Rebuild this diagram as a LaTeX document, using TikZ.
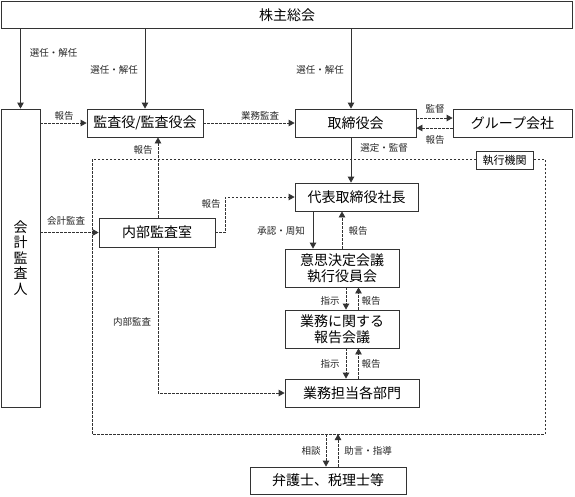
\documentclass[tikz,border=0pt]{standalone}
\usepackage{fontspec}
\newfontfamily\jp{Noto Sans CJK JP}
\usetikzlibrary{arrows.meta}
\begin{document}
\begin{tikzpicture}[x=1pt,y=-1pt,
 box/.style={draw=black!80,line width=0.8pt,fill=white,inner sep=0pt,font=\jp\fontsize{14}{16}\selectfont,align=center},
 lbl/.style={font=\jp\fontsize{9.5}{11}\selectfont,inner sep=0pt,text=black!85},
 sarr/.style={draw=black!80,line width=0.8pt,-{Triangle[length=6pt,width=6.5pt]}},
 darr/.style={sarr,dash pattern=on 2.5pt off 1.5pt},
 dline/.style={draw=black!80,line width=0.8pt,dash pattern=on 2.5pt off 1.5pt}]
\useasboundingbox (0,0) rectangle (575,496);

% executive region
\draw[dline] (92,159) rectangle (545,434);
\coordinate (regbot) at (92,434);

% boxes
\node[box,minimum width=571pt,minimum height=27pt] (top) at (287,15) {株主総会};
\node[box,minimum width=39pt,minimum height=298pt,font=\jp\fontsize{14}{15.5}\selectfont] (kaikei) at (20.5,258) {会\\計\\監\\査\\人};
\node[box,minimum width=116pt,minimum height=28pt] (kansa) at (145,123) {監査役/監査役会};
\node[box,minimum width=121pt,minimum height=28pt] (tori) at (355.5,123) {取締役会};
\node[box,minimum width=119pt,minimum height=28pt] (group) at (512.5,123) {グループ会社};
\node[box,minimum width=57pt,minimum height=18pt,font=\jp\fontsize{11}{13}\selectfont] (shikko) at (504.5,160) {執行機関};
\node[box,minimum width=123pt,minimum height=28pt] (daihyo) at (356.5,197) {代表取締役社長};
\node[box,minimum width=116pt,minimum height=29pt] (naibu) at (157,232.5) {内部監査室};
\node[box,minimum width=114pt,minimum height=38pt] (ishi) at (342,268) {意思決定会議\\執行役員会};
\node[box,minimum width=114pt,minimum height=38pt] (hokoku) at (342,329) {業務に関する\\報告会議};
\node[box,minimum width=134pt,minimum height=28pt] (tanto) at (352,393) {業務担当各部門};
\node[box,minimum width=156pt,minimum height=27pt] (bengo) at (328,480.5) {弁護士、税理士等};

% solid arrows from 株主総会
\draw[sarr] (top.south -| kaikei.north) -- (kaikei.north);
\draw[sarr] (top.south -| kansa.north) -- (kansa.north);
\coordinate (tx) at (351,0);
\draw[sarr] (top.south -| tx) -- (tori.north -| tx);
\draw[sarr] (tori.south -| tx) -- (daihyo.north -| tx);
\node[lbl] (l1) at (53.5,53) {選任・解任};
\node[lbl] (l2) at (114,70) {選任・解任};
\node[lbl] (l3) at (320,70) {選任・解任};
\node[lbl] (l4) at (384,148) {選定・監督};

% row of kansa/tori/group
\draw[darr] (kaikei.east |- kansa.west) -- (kansa.west);
\node[lbl] (l5) at (64,116) {報告};
\draw[darr] (kansa.east) -- (tori.west);
\node[lbl] (l6) at (260,116) {業務監査};
\draw[darr] ([yshift=5pt]tori.east) -- ([yshift=5pt]group.west);
\node[lbl] (l7) at (435,109) {監督};
\draw[darr] ([yshift=-5pt]group.west) -- ([yshift=-5pt]tori.east);
\node[lbl] (l8) at (435,140) {報告};

% 内部監査室 connections
\draw[darr] (kaikei.east |- naibu.west) -- (naibu.west);
\node[lbl] (l9) at (66,221) {会計監査};
\draw[darr] ([xshift=1pt]naibu.north) -- ([xshift=1pt]kansa.south -| naibu.north);
\node[lbl] (l10) at (143,150) {報告};
\draw[darr] (naibu.east) -- ++(10,0) |- (daihyo.west);
\node[lbl] (l11) at (211,204) {報告};
\draw[darr] ([xshift=1pt]naibu.south) |- (tanto.west);
\node[lbl] (l12) at (132,322) {内部監査};

% 代表 -> 意思決定
\coordinate (ax1) at (313,0);
\coordinate (ax2) at (342,0);
\draw[sarr] (daihyo.south -| ax1) -- (ishi.north -| ax1);
\draw[darr] (ishi.north -| ax2) -- (daihyo.south -| ax2);
\node[lbl] (l13) at (281,231) {承認・周知};
\node[lbl] (l14) at (358,231) {報告};

% 意思決定 -> 業務に関する
\coordinate (bx1) at (346,0);
\coordinate (bx2) at (358.5,0);
\draw[darr] (ishi.south -| bx1) -- (hokoku.north -| bx1);
\draw[darr] (hokoku.north -| bx2) -- (ishi.south -| bx2);
\node[lbl] (l15) at (330,301) {指示};
\node[lbl] (l16) at (371,301) {報告};

% 業務に関する -> 業務担当
\draw[darr] (hokoku.south -| bx1) -- (tanto.north -| bx1);
\draw[darr] (tanto.north -| bx2) -- (hokoku.south -| bx2);
\node[lbl] (l17) at (330,364) {指示};
\node[lbl] (l18) at (371,364) {報告};

% region <-> 弁護士
\coordinate (cx1) at (326,0);
\coordinate (cx2) at (338,0);
\draw[darr] (regbot -| cx1) -- (bengo.north -| cx1);
\draw[darr] (bengo.north -| cx2) -- (regbot -| cx2);
\node[lbl] (l19) at (311,451) {相談};
\node[lbl] (l20) at (368,451) {助言・指導};
\end{tikzpicture}
\end{document}
